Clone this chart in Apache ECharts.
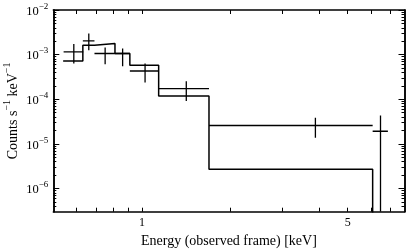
<!DOCTYPE html>
<html><head><meta charset="utf-8">
<script src="https://cdn.jsdelivr.net/npm/echarts@6/dist/echarts.min.js"></script>
<style>html,body{margin:0;padding:0;background:#fff}#c{width:415px;height:249px}</style>
</head><body><div id="c"></div>
<script>
// ---- data ----
const binEdges = [0.54, 0.63, 0.69, 0.81, 0.91, 1.14, 1.69, 6.08, 6.85];
const modelCounts = [7.2e-4, 1.63e-3, 1.78e-3, 1.06e-3, 5.8e-4, 1.18e-4, 2.69e-6, 0];
const dataEnergy = [0.587, 0.66, 0.75, 0.86, 1.025, 1.415, 3.885, 6.465];
const dataEnergyErr = [0.045, 0.03, 0.06, 0.05, 0.115, 0.275, 2.195, 0.385];
const dataCounts = [1.15e-3, 2.04e-3, 1.06e-3, 1.06e-3, 4.3e-4, 1.73e-4, 2.58e-5, 1.92e-5];
const dataCountsLow = [6.3e-4, 1.26e-3, 6.1e-4, 5.5e-4, 2.36e-4, 9.1e-5, 1.37e-5, 0];
const dataCountsHigh = [1.72e-3, 2.99e-3, 1.45e-3, 1.37e-3, 6.3e-4, 2.52e-4, 3.85e-5, 4.33e-5];
const xTickValues = [0.6, 0.7, 0.8, 0.9, 1, 2, 3, 4, 5, 6, 7];
const xTickLabels = [1, 5];
const yMajorExponents = [-6, -5, -4, -3, -2];
const xRange = [0.5, 7.8];
const yRangeExp = [-6.52, -2];

const FONT = 'Liberation Serif';
const lg = v => v > 0 ? Math.log10(v) : -20;

// minor y ticks (log decades)
const yMinor = [];
for (let n = -7; n <= -3; n++) for (let k = 2; k <= 9; k++) {
  const v = n + Math.log10(k);
  if (v > yRangeExp[0] && v < yRangeExp[1]) yMinor.push(v);
}

const modelLine = binEdges.slice(0, -1).map((e, i) => [lg(e), lg(modelCounts[i])]);
modelLine.push([lg(binEdges[binEdges.length - 1]), lg(modelCounts[modelCounts.length - 1])]);

const errData = dataEnergy.map((e, i) => [
  lg(e), lg(dataCounts[i]),
  lg(e - dataEnergyErr[i]), lg(e + dataEnergyErr[i]),
  lg(dataCountsLow[i]), lg(dataCountsHigh[i])
]);

const axLine = { show: true, onZero: false, lineStyle: { color: '#000', width: 1.5 } };
const supLabel = {
  b: { fontSize: 12.5, fontFamily: FONT, color: '#000', lineHeight: 16, verticalAlign: 'bottom' },
  s: { fontSize: 9, fontFamily: FONT, color: '#000', lineHeight: 11, verticalAlign: 'top' }
};

function xAx(pos, labels) {
  return {
    type: 'value', position: pos, min: lg(xRange[0]), max: lg(xRange[1]),
    axisLine: axLine, splitLine: { show: false },
    axisTick: { show: true, inside: true, length: 4, customValues: xTickValues.map(lg), lineStyle: { color: '#000', width: 1 } },
    axisLabel: labels ? {
      show: true, customValues: xTickLabels.map(lg), margin: 5,
      formatter: v => String(Math.round(Math.pow(10, v))),
      fontFamily: FONT, fontSize: 12, color: '#000'
    } : { show: false },
    name: labels ? 'Energy (observed frame) [keV]' : '',
    nameLocation: 'middle', nameGap: 23, nameMoveOverlap: false,
    nameTextStyle: { fontFamily: FONT, fontSize: 14, color: '#000' }
  };
}
function yAx(pos, major, labels) {
  return {
    type: 'value', position: pos, min: yRangeExp[0], max: yRangeExp[1],
    axisLine: axLine, splitLine: { show: false },
    axisTick: { show: true, inside: true, length: major ? 6 : 3, customValues: major ? yMajorExponents : yMinor, lineStyle: { color: '#000', width: 1 } },
    axisLabel: labels ? {
      show: true, customValues: yMajorExponents, margin: 5,
      formatter: v => '{b|10}{s|−' + Math.abs(Math.round(v)) + '}',
      rich: supLabel
    } : { show: false },
    name: labels ? '{b|Counts s}{s|−1}{b| keV}{s|−1}' : '',
    nameLocation: 'middle', nameGap: 33, nameMoveOverlap: false,
    nameTextStyle: {
      rich: {
        b: { fontSize: 14, fontFamily: FONT, color: '#000', lineHeight: 18, verticalAlign: 'bottom' },
        s: { fontSize: 10, fontFamily: FONT, color: '#000', lineHeight: 12, verticalAlign: 'top' }
      }
    }
  };
}

const chart = echarts.init(document.getElementById('c'), null, { renderer: 'canvas' });
chart.setOption({
  animation: false,
  backgroundColor: '#fff',
  grid: { left: 53.3, right: 10.5, top: 10, bottom: 37.3, containLabel: false, outerBoundsMode: 'none' },
  xAxis: [xAx('bottom', true), xAx('top', false)],
  yAxis: [yAx('left', true, true), yAx('left', false, false), yAx('right', true, false), yAx('right', false, false)],
  series: [
    {
      type: 'line', step: 'end', data: modelLine, xAxisIndex: 0, yAxisIndex: 0,
      showSymbol: false, symbol: 'none', clip: true,
      lineStyle: { color: '#000', width: 1.5 }
    },
    {
      type: 'custom', xAxisIndex: 0, yAxisIndex: 0, data: errData, clip: true,
      renderItem: function (params, api) {
        const cs = params.coordSys;
        const top = cs.y, bottom = cs.y + cs.height;
        const clampY = y => Math.max(top, Math.min(bottom, y));
        const c = api.coord([api.value(0), api.value(1)]);
        const xl = api.coord([api.value(2), api.value(1)])[0];
        const xh = api.coord([api.value(3), api.value(1)])[0];
        const yl = clampY(api.coord([api.value(0), api.value(4)])[1]);
        const yh = clampY(api.coord([api.value(0), api.value(5)])[1]);
        const st = { stroke: '#000', lineWidth: 1.3 };
        return {
          type: 'group', children: [
            { type: 'line', shape: { x1: xl, y1: c[1], x2: xh, y2: c[1] }, style: st },
            { type: 'line', shape: { x1: c[0], y1: yh, x2: c[0], y2: yl }, style: st }
          ]
        };
      }
    }
  ]
});
</script>
</body></html>
